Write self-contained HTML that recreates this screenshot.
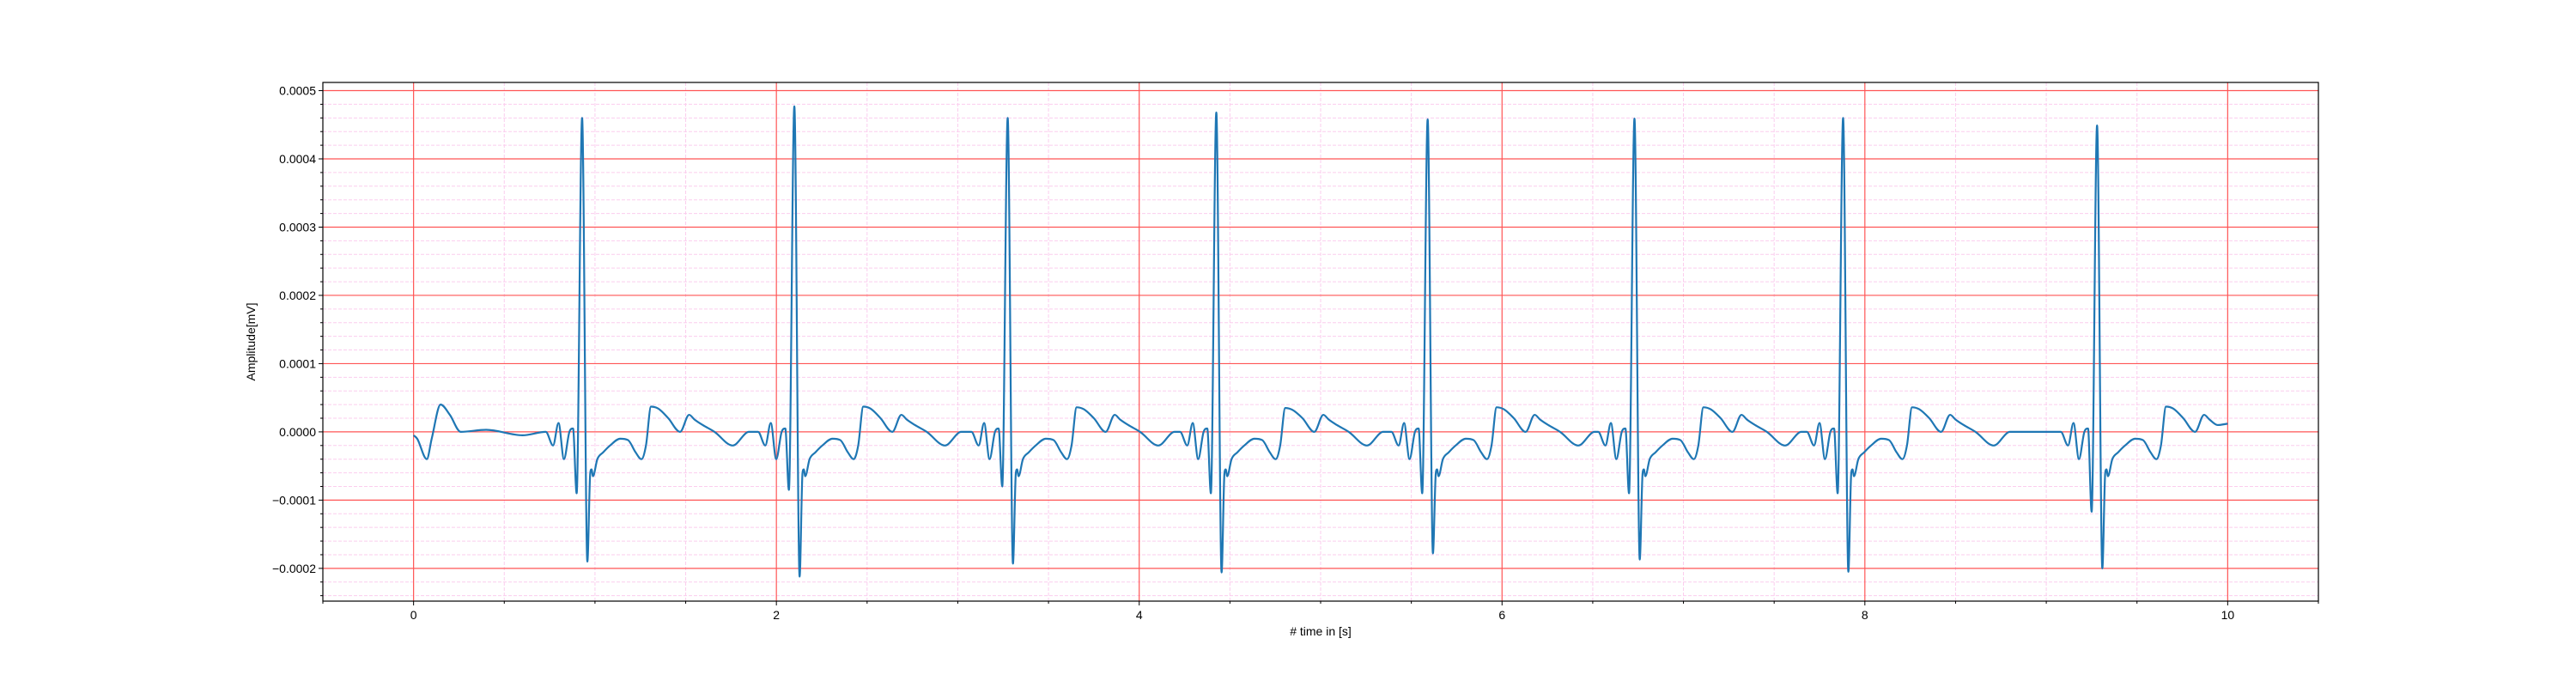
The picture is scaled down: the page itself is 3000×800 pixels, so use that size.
<!DOCTYPE html>
<html><head><meta charset="utf-8"><style>
html,body{margin:0;padding:0;background:#fff;}
svg{display:block;font-family:"Liberation Sans","DejaVu Sans",sans-serif;}
</style></head><body>
<svg id="chart" width="3000" height="800" viewBox="0 0 3000 800" xmlns="http://www.w3.org/2000/svg">
<rect x="0" y="0" width="3000" height="800" fill="#fff"/>
<g id="grid"></g>
<g id="series"></g>
<g id="axes"></g>
<text x="1538" y="740" font-size="14" text-anchor="middle"># time in [s]</text>
<text x="0" y="0" font-size="14" text-anchor="middle" transform="translate(297,398) rotate(-90)">Amplitude[mV]</text>
</svg>
<script>
// ---- data ----
const beatTimes = [0.929, 2.099, 3.275, 4.425, 5.59, 6.73, 7.88, 9.28];
const rAmps = [0.00046, 0.000477, 0.00046, 0.000468, 0.000458, 0.000459, 0.00046, 0.000449];
const sAmps = [-0.00019, -0.000212, -0.000193, -0.000206, -0.000178, -0.000187, -0.000205, -0.0002];
const qAmps = [-0.00009, -0.000085, -0.00008, -0.00009, -0.00009, -0.00009, -0.00009, -0.000117];
const tAmps = [0.000037, 0.000037, 0.000036, 0.000035, 0.000036, 0.000036, 0.000036, 0.000037];
// beat shape: offsets (s) relative to R peak and baseline values (mV); letters = per-beat Q/R/S/T
const tplOffsets = [-0.2,-0.16,-0.13,-0.1,-0.07,-0.05,-0.03,0,0.029,0.045,0.052,0.06,0.084,0.116,0.154,0.21,0.253,0.295,0.327,0.352,0.38,0.42,0.475,0.54,0.59,0.62,0.665,0.73,0.83,0.92];
const tplValues = [0,-0.00002,0.000013,-0.00004,0,0.000005,'Q','R','S',-0.00006,-0.000055,-0.000065,-0.00004,-0.00003,-0.00002,-0.00001,-0.000012,-0.00003,-0.00004,-0.00002,'T','T2',0.00002,0,0.000025,0.000018,0.00001,0,-0.00002,0];
const startTimes = [0, 0.02, 0.073, 0.1, 0.149, 0.2, 0.26, 0.4, 0.6];
const startValues = [-0.000005, -0.00001, -0.00004, -0.00001, 0.00004, 0.000025, 0, 0.000003, -0.000005];
const endTime = 10, endValue = 0.000012;
const xTicks = [0, 2, 4, 6, 8, 10];
const yTicks = [-0.0002, -0.0001, 0, 0.0001, 0.0002, 0.0003, 0.0004, 0.0005];
const yTickLabels = ['\u22120.0002', '\u22120.0001', '0.0000', '0.0001', '0.0002', '0.0003', '0.0004', '0.0005'];

// ---- axes ----
const L = 376, R = 2700, T = 96, B = 700;
const xMin = -0.5, xMax = 10.5, yMin = -0.000248, yMax = 0.000512;
const X = v => L + (v - xMin) / (xMax - xMin) * (R - L);
const Y = v => B - (v - yMin) / (yMax - yMin) * (B - T);
const NS = 'http://www.w3.org/2000/svg';
function mk(tag, attrs, parent) {
  const e = document.createElementNS(NS, tag);
  for (const k in attrs) e.setAttribute(k, attrs[k]);
  parent.appendChild(e); return e;
}
const grid = document.getElementById('grid');
const axes = document.getElementById('axes');
const series = document.getElementById('series');

// minor grid
for (let i = Math.ceil(xMin / 0.5); i * 0.5 <= xMax; i++) {
  const v = i * 0.5; if (Math.abs(v / 2 - Math.round(v / 2)) < 1e-9) continue;
  const ln = mk('line', {x1: X(v), x2: X(v), y1: T, y2: B, stroke: '#fbcdee', 'stroke-width': 1, 'stroke-dasharray': '4,2'}, grid);
  
  
  const tk = mk('line', {x1: X(v), x2: X(v), y1: B, y2: B + 3, stroke: '#000', 'stroke-width': 1}, axes);
  
  
}
for (let i = Math.ceil(yMin / 0.00002); i * 0.00002 <= yMax; i++) {
  if (i % 5 === 0) continue;
  const v = i * 0.00002;
  const ln = mk('line', {x1: L, x2: R, y1: Y(v), y2: Y(v), stroke: '#fbcdee', 'stroke-width': 1, 'stroke-dasharray': '4,2'}, grid);
  
  
  const tk = mk('line', {x1: L - 3, x2: L, y1: Y(v), y2: Y(v), stroke: '#000', 'stroke-width': 1}, axes);
  
  
}
// major grid + ticks
xTicks.forEach(v => {
  const ln = mk('line', {x1: X(v), x2: X(v), y1: T, y2: B, stroke: '#f55', 'stroke-width': 1.2}, grid);
  
  
  const tk = mk('line', {x1: X(v), x2: X(v), y1: B, y2: B + 5, stroke: '#000', 'stroke-width': 1}, axes);
  
  
  const tx = mk('text', {x: X(v), y: B + 21, 'font-size': 14, 'text-anchor': 'middle'}, axes);
  tx.textContent = String(v);
  
  
});
yTicks.forEach((v, i) => {
  const ln = mk('line', {x1: L, x2: R, y1: Y(v), y2: Y(v), stroke: '#f55', 'stroke-width': 1.2}, grid);
  
  
  const tk = mk('line', {x1: L - 5, x2: L, y1: Y(v), y2: Y(v), stroke: '#000', 'stroke-width': 1}, axes);
  
  
  const tx = mk('text', {x: L - 8, y: Y(v) + 5, 'font-size': 14, 'text-anchor': 'end'}, axes);
  tx.textContent = yTickLabels[i];
  
  
});
const frame = mk('rect', {x: L, y: T, width: R - L, height: B - T, fill: 'none', stroke: '#000', 'stroke-width': 1.2}, axes);



// ---- series ----
const knots = [];
startTimes.forEach((t, i) => knots.push([t, startValues[i]]));
beatTimes.forEach((bt, b) => {
  tplOffsets.forEach((o, j) => {
    let v = tplValues[j];
    if (v === 'Q') v = qAmps[b];
    else if (v === 'R') v = rAmps[b];
    else if (v === 'S') v = sAmps[b];
    else if (v === 'T') v = tAmps[b];
    else if (v === 'T2') v = tAmps[b] * 0.92;
    const t = bt + o;
    if (t > startTimes[startTimes.length - 1] && t < endTime) knots.push([t, v]);
  });
});
knots.push([endTime, endValue]);
knots.sort((a, b) => a[0] - b[0]);
// monotone cubic (Fritsch-Carlson) -> no overshoot
const P = knots.map(k => [X(k[0]), Y(k[1])]);
const n = P.length, dk = [], m = new Array(n);
for (let i = 0; i < n - 1; i++) dk.push((P[i + 1][1] - P[i][1]) / (P[i + 1][0] - P[i][0]));
m[0] = dk[0]; m[n - 1] = dk[n - 2];
for (let i = 1; i < n - 1; i++) m[i] = (dk[i - 1] * dk[i] <= 0) ? 0 : (dk[i - 1] + dk[i]) / 2;
for (let i = 0; i < n - 1; i++) {
  if (dk[i] === 0) { m[i] = 0; m[i + 1] = 0; continue; }
  const a = m[i] / dk[i], b = m[i + 1] / dk[i], s = a * a + b * b;
  if (s > 9) { const tt = 3 / Math.sqrt(s); m[i] = tt * a * dk[i]; m[i + 1] = tt * b * dk[i]; }
}
let d = 'M' + P[0][0].toFixed(2) + ',' + P[0][1].toFixed(2);
for (let i = 0; i < n - 1; i++) {
  const h = (P[i + 1][0] - P[i][0]) / 3;
  d += ' C' + (P[i][0] + h).toFixed(2) + ',' + (P[i][1] + m[i] * h).toFixed(2) + ' ' +
       (P[i + 1][0] - h).toFixed(2) + ',' + (P[i + 1][1] - m[i + 1] * h).toFixed(2) + ' ' +
       P[i + 1][0].toFixed(2) + ',' + P[i + 1][1].toFixed(2);
}
const line = mk('path', {d: d, fill: 'none', stroke: '#1f77b4', 'stroke-width': 2.2, 'stroke-linejoin': 'round'}, series);


</script>
</body></html>
